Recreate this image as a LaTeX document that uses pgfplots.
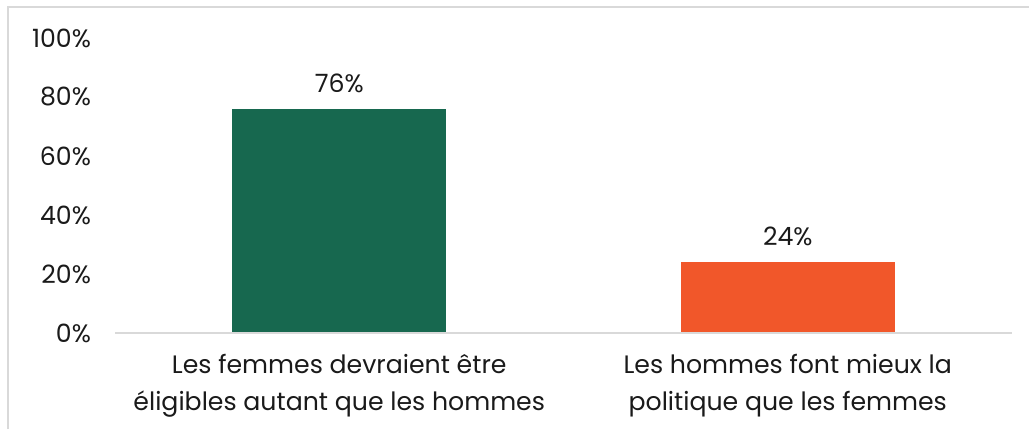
\documentclass[border=0pt]{standalone}
\usepackage{fontspec}
\setmainfont{Poppins}
\usepackage{pgfplots}
\pgfplotsset{compat=1.18}
\definecolor{bargreen}{HTML}{17684F}
\definecolor{barorange}{HTML}{F1572A}
\definecolor{framegrey}{HTML}{D9D9D9}
\definecolor{txt}{HTML}{1A1A1A}
\begin{document}
\begin{tikzpicture}[x=0.5pt,y=0.5pt]
\path[use as bounding box] (0,0) rectangle (1029,429);
\draw[framegrey, line width=1.2pt] (8,0) -- (8,422) -- (1029,422);
\begin{axis}[
  at={(57.5pt,48pt)}, anchor=south west,
  scale only axis, width=448.5pt, height=147.5pt,
  font=\fontsize{12.6}{15}\selectfont, text=txt,
  ymin=0, ymax=100, xmin=-0.5, xmax=1.5,
  axis line style={draw=none},
  axis x line=none,
  ytick={0,20,...,100},
  yticklabel={\pgfmathprintnumber{\tick}\%},
  /pgf/number format/assume math mode=true,
  yticklabel style={xshift=-8.5pt},
  ytick style={draw=none},
  ybar, bar width=107pt, bar shift=0pt,
  nodes near coords={\pgfmathprintnumber{\pgfplotspointmeta}\%},
  nodes near coords style={text=txt, yshift=4.5pt},
  clip=false,
]
\addplot[fill=bargreen, draw=none] coordinates {(0,76)};
\addplot[fill=barorange, draw=none] coordinates {(1,24)};
\draw[framegrey, line width=1.2pt] (axis cs:-0.5,0) -- (axis cs:1.5,0);
\node[align=center, anchor=north, text=txt, font=\fontsize{12.6}{18.5}\selectfont] at (axis cs:0,0) [yshift=-7pt] {Les femmes devraient être\\éligibles autant que les hommes};
\node[align=center, anchor=north, text=txt, font=\fontsize{12.6}{18.5}\selectfont] at (axis cs:1,0) [yshift=-7pt] {Les hommes font mieux la\\politique que les femmes};
\end{axis}
\end{tikzpicture}
\end{document}
